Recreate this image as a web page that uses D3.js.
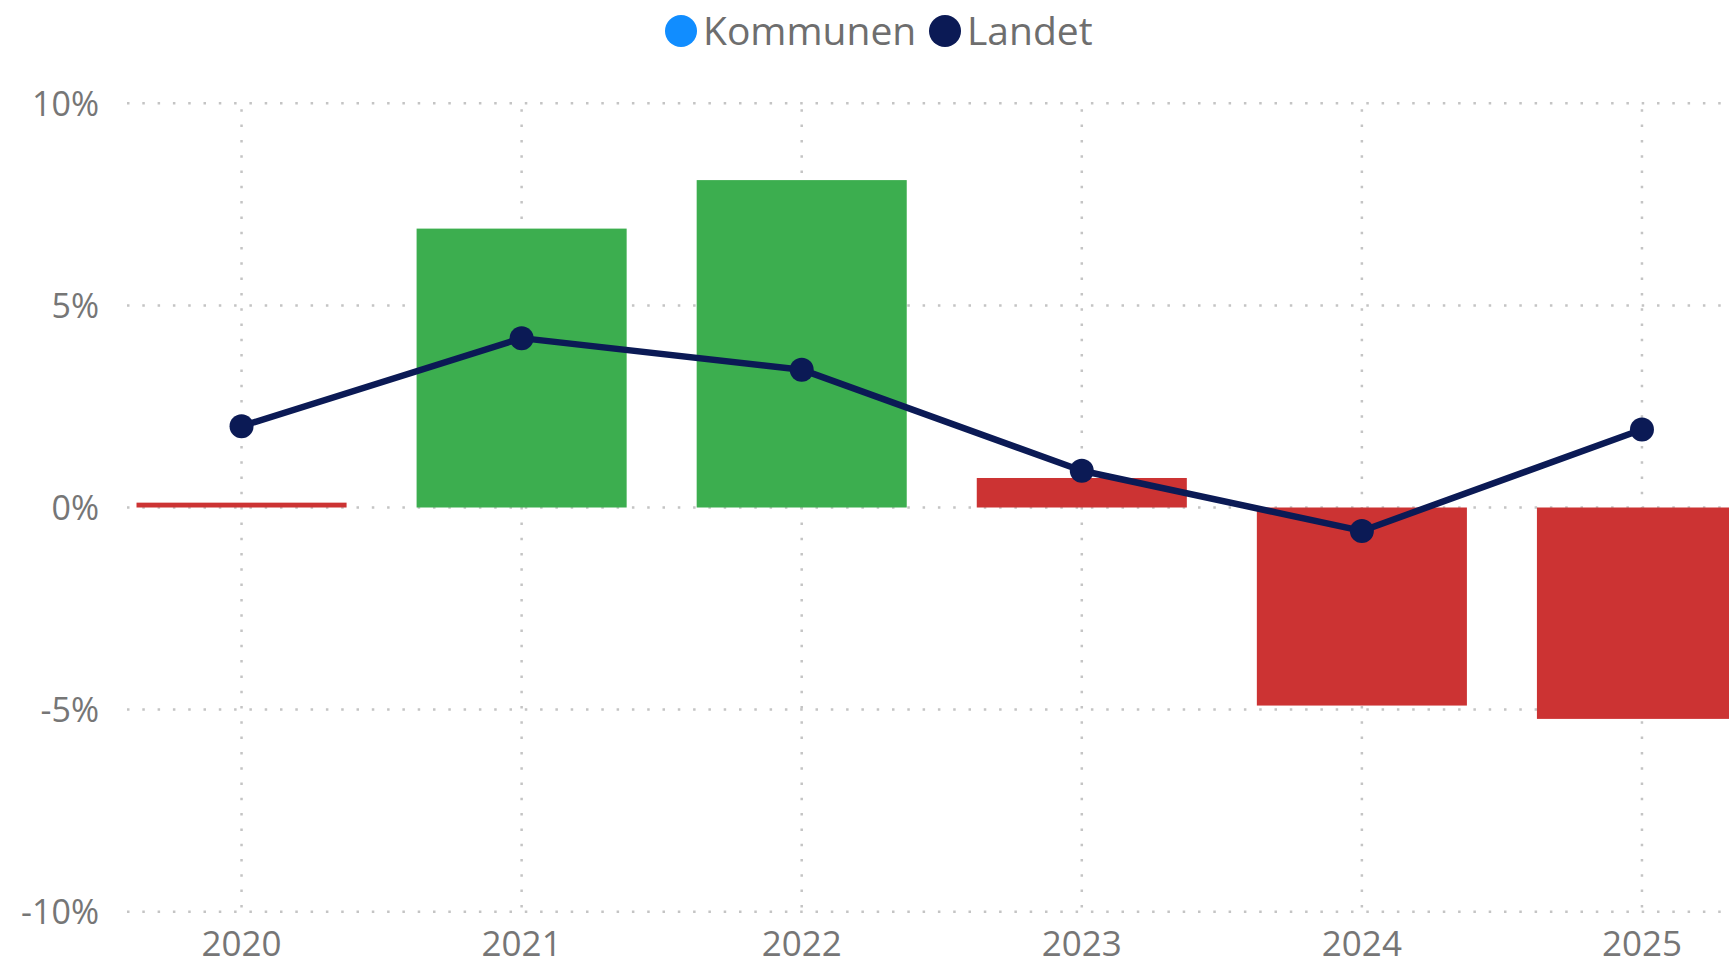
<!DOCTYPE html>
<html>
<head>
<meta charset="utf-8">
<script src="https://cdn.jsdelivr.net/npm/d3@7"></script>
<style>
  html, body { margin: 0; padding: 0; background: #fff; overflow: hidden; }
  svg { display: block; font-family: "Open Sans", sans-serif; }
</style>
</head>
<body>
<div id="chart"></div>
<script>
// data (percent)
const years = ["2020", "2021", "2022", "2023", "2024", "2025"];
const kommunen = [0.12, 6.9, 8.1, 0.73, -4.9, -5.23];
const landet = [2.01, 4.19, 3.41, 0.91, -0.58, 1.93];
const yTicks = [-10, -5, 0, 5, 10];
const legendItems = ["Kommunen", "Landet"];

const width = 1729;
const height = 965;

const green = "#3cae4f";
const red = "#cc3333";
const navy = "#0b1a55";
const legendColors = ["#118dff", navy];

const svg = d3.select("#chart")
  .append("svg")
  .attr("width", width)
  .attr("height", height)
  .attr("viewBox", [0, 0, width, height]);

// the last band runs past the right edge, like in the screenshot
const xScale = d3.scaleBand()
  .domain(years)
  .range([101.5, 1782])
  .paddingInner(0.25)
  .paddingOuter(0.125);

const yScale = d3.scaleLinear()
  .domain([-10, 10])
  .range([911.7, 103.3]);

const cx = (d) => xScale(d) + xScale.bandwidth() / 2;

// horizontal grid
svg.append("g")
  .attr("class", "yGrid")
  .selectAll("line")
  .data(yTicks)
  .join("line")
  .attr("x1", 127)
  .attr("x2", width)
  .attr("y1", (d) => yScale(d))
  .attr("y2", (d) => yScale(d))
  .style("stroke", "#c4c4c4")
  .style("stroke-width", 2.5)
  .style("stroke-dasharray", "2.5,12.8");

// vertical grid
svg.append("g")
  .attr("class", "xGrid")
  .selectAll("line")
  .data(years)
  .join("line")
  .attr("x1", cx)
  .attr("x2", cx)
  .attr("y1", yScale(10) + 6)
  .attr("y2", yScale(-10) + 6)
  .style("stroke", "#c4c4c4")
  .style("stroke-width", 2.5)
  .style("stroke-dasharray", "2.5,12.8");

// y axis labels
const yAxis = svg.append("g")
  .attr("class", "yAxis")
  .attr("transform", "translate(99,0)")
  .call(d3.axisLeft(yScale).tickValues(yTicks).tickSize(0).tickPadding(0).tickFormat((d) => d + "%"));
yAxis.select(".domain").remove();
yAxis.selectAll("text")
  .attr("dy", "0.36em")
  .style("font-family", "'Open Sans', sans-serif")
  .style("font-size", "34px")
  .style("fill", "#767676");

// x axis labels
const xAxis = svg.append("g")
  .attr("class", "xAxis")
  .attr("transform", "translate(0,931)")
  .call(d3.axisBottom(xScale).tickSize(0).tickPadding(0));
xAxis.select(".domain").remove();
xAxis.selectAll("text")
  .attr("dy", "0.71em")
  .style("font-family", "'Open Sans', sans-serif")
  .style("font-size", "35px")
  .style("fill", "#767676");

// bars: green where Kommunen beats Landet, red otherwise
svg.append("g")
  .attr("class", "bars")
  .selectAll("rect")
  .data(years)
  .join("rect")
  .attr("x", (d) => xScale(d))
  .attr("width", xScale.bandwidth())
  .attr("y", (d, i) => yScale(Math.max(0, kommunen[i])))
  .attr("height", (d, i) => Math.abs(yScale(kommunen[i]) - yScale(0)))
  .style("fill", (d, i) => (kommunen[i] >= landet[i] ? green : red));

// Landet line
const line = d3.line()
  .x((d, i) => cx(years[i]))
  .y((d) => yScale(d));

svg.append("path")
  .attr("d", line(landet))
  .style("fill", "none")
  .style("stroke", navy)
  .style("stroke-width", 6.5)
  .style("stroke-linejoin", "round");

svg.append("g")
  .attr("class", "points")
  .selectAll("circle")
  .data(landet)
  .join("circle")
  .attr("cx", (d, i) => cx(years[i]))
  .attr("cy", (d) => yScale(d))
  .attr("r", 12)
  .style("fill", navy);

// legend
const legend = svg.append("g").attr("class", "legend");
const legendX = [681, 945];
legend.selectAll("circle")
  .data(legendItems)
  .join("circle")
  .attr("cx", (d, i) => legendX[i])
  .attr("cy", 31)
  .attr("r", 16)
  .style("fill", (d, i) => legendColors[i]);
legend.selectAll("text")
  .data(legendItems)
  .join("text")
  .attr("x", (d, i) => legendX[i] + 22)
  .attr("y", 45)
  .text((d) => d)
  .style("font-family", "'Open Sans', sans-serif")
  .style("font-size", "39px")
  .style("fill", "#6e6e6e");
</script>
</body>
</html>
